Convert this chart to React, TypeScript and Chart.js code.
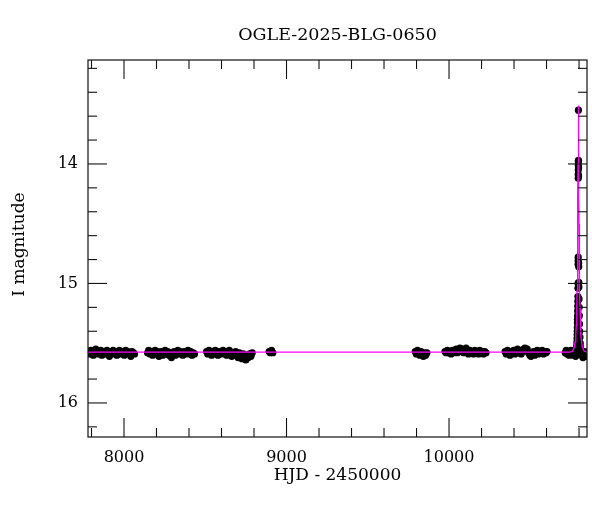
import { useEffect, useRef } from 'react';
import { Chart, registerables } from 'chart.js';

Chart.register(...registerables);

const TITLE = 'OGLE-2025-BLG-0650';
const X_LABEL = 'HJD - 2450000';
const Y_LABEL = 'I magnitude';
const X_MIN = 7778.5;
const X_MAX = 10849;
const Y_MIN = 13.13;
const Y_MAX = 16.285;
const X_TICK_LABELS = [8000, 9000, 10000];
const Y_TICK_LABELS = [14, 15, 16];
const X_MINOR_TICKS = [7800, 8000, 8200, 8400, 8600, 8800, 9000, 9200, 9400, 9600, 9800, 10000, 10200, 10400, 10600, 10800];
const Y_MINOR_TICKS = [13.2, 13.4, 13.6, 13.8, 14, 14.2, 14.4, 14.6, 14.8, 15, 15.2, 15.4, 15.6, 15.8, 16, 16.2];
const FONT = '"DejaVu Serif", "Liberation Serif", serif';

// OGLE I-band photometry [HJD-2450000, I mag], season by season
const season1 = [
  [7781, 15.57], [7788, 15.59], [7796, 15.56], [7803, 15.58], [7811, 15.6], [7819, 15.57], [7826, 15.55], [7834, 15.58],
  [7841, 15.59], [7849, 15.57], [7857, 15.56], [7864, 15.6], [7872, 15.58], [7880, 15.57], [7887, 15.59], [7895, 15.56],
  [7903, 15.58], [7910, 15.61], [7918, 15.57], [7926, 15.58], [7933, 15.56], [7941, 15.59], [7949, 15.57], [7956, 15.6],
  [7964, 15.58], [7972, 15.56], [7979, 15.59], [7987, 15.57], [7995, 15.58], [8002, 15.6], [8010, 15.56], [8018, 15.58],
  [8026, 15.57], [8034, 15.59], [8042, 15.61], [8050, 15.57], [8058, 15.58], [8065, 15.59],
];
const season2 = [
  [8145, 15.58], [8152, 15.56], [8160, 15.59], [8168, 15.57], [8176, 15.6], [8184, 15.58], [8191, 15.56], [8199, 15.59],
  [8207, 15.57], [8215, 15.61], [8222, 15.58], [8230, 15.57], [8238, 15.6], [8246, 15.58], [8253, 15.56], [8261, 15.59],
  [8269, 15.57], [8277, 15.6], [8285, 15.58], [8292, 15.62], [8300, 15.59], [8308, 15.57], [8316, 15.6], [8323, 15.58],
  [8331, 15.56], [8339, 15.59], [8347, 15.57], [8355, 15.58], [8362, 15.6], [8370, 15.57], [8378, 15.59], [8386, 15.58],
  [8394, 15.56], [8402, 15.59], [8410, 15.57], [8418, 15.6], [8426, 15.58], [8434, 15.59],
];
const season3 = [
  [8508, 15.57], [8515, 15.59], [8523, 15.56], [8531, 15.58], [8539, 15.6], [8546, 15.57], [8554, 15.59], [8562, 15.56],
  [8570, 15.58], [8578, 15.6], [8585, 15.57], [8593, 15.59], [8601, 15.58], [8609, 15.56], [8617, 15.59], [8624, 15.57],
  [8632, 15.6], [8640, 15.58], [8648, 15.56], [8656, 15.59], [8663, 15.61], [8671, 15.58], [8679, 15.6], [8687, 15.57],
  [8695, 15.59], [8702, 15.62], [8710, 15.58], [8718, 15.6], [8726, 15.63], [8734, 15.59], [8742, 15.61], [8750, 15.64],
  [8757, 15.6], [8765, 15.62], [8773, 15.59], [8781, 15.61], [8789, 15.58],
];
const season4 = [[8893, 15.57], [8900, 15.58], [8908, 15.56], [8916, 15.58]];
const season5 = [
  [9792, 15.57], [9799, 15.59], [9806, 15.56], [9813, 15.58], [9820, 15.6], [9828, 15.57], [9835, 15.59], [9842, 15.61],
  [9849, 15.58], [9856, 15.6], [9864, 15.58],
];
const season6 = [
  [9975, 15.57], [9982, 15.58], [9990, 15.56], [9998, 15.58], [10005, 15.57], [10013, 15.59], [10021, 15.56], [10028, 15.58],
  [10036, 15.57], [10044, 15.55], [10051, 15.58], [10059, 15.56], [10067, 15.54], [10074, 15.57], [10082, 15.55], [10090, 15.58],
  [10097, 15.56], [10105, 15.54], [10113, 15.57], [10120, 15.59], [10128, 15.56], [10136, 15.58], [10143, 15.57], [10151, 15.59],
  [10159, 15.56], [10166, 15.58], [10174, 15.57], [10182, 15.59], [10189, 15.56], [10197, 15.58], [10205, 15.57], [10212, 15.59],
  [10220, 15.57], [10228, 15.58],
];
const season7 = [
  [10345, 15.57], [10352, 15.59], [10360, 15.56], [10368, 15.58], [10375, 15.6], [10383, 15.57], [10391, 15.58], [10398, 15.56],
  [10406, 15.59], [10414, 15.57], [10421, 15.55], [10429, 15.58], [10437, 15.56], [10444, 15.59], [10452, 15.57], [10460, 15.55],
  [10467, 15.54], [10474, 15.56], [10481, 15.55], [10489, 15.58], [10497, 15.6], [10504, 15.61], [10512, 15.59], [10520, 15.57],
  [10527, 15.6], [10535, 15.58], [10543, 15.56], [10550, 15.59], [10558, 15.57], [10566, 15.58], [10573, 15.56], [10581, 15.59],
  [10589, 15.57], [10597, 15.58], [10603, 15.57],
];
const season8 = [
  [10715, 15.58], [10721, 15.56], [10727, 15.59], [10733, 15.57], [10739, 15.6], [10745, 15.58], [10750, 15.56], [10755, 15.59],
  [10760, 15.57], [10764, 15.6], [10768, 15.58], [10771, 15.56], [10774, 15.59], [10777, 15.57], [10779, 15.61], [10781, 15.58],
  [10783, 15.55], [10785, 15.57], [10786, 15.52], [10787, 15.49], [10788, 15.46], [10788.5, 15.43], [10789, 15.4], [10789.5, 15.37],
  [10790, 15.33], [10790.5, 15.3], [10791, 15.27], [10791.5, 15.23], [10792, 15.19], [10792.5, 15.15], [10793, 15.11], [10793.4, 15.04],
  [10793.8, 15.0], [10794.2, 14.84], [10794.5, 14.81], [10794.8, 14.78], [10795.1, 14.12], [10795.3, 14.09], [10795.5, 14.05], [10795.7, 14.01],
  [10795.9, 13.98], [10796.1, 13.55], [10796.4, 13.97], [10796.7, 14.03], [10797, 14.1], [10797.5, 14.83], [10798, 14.86], [10798.5, 14.99],
  [10799, 15.03], [10800, 15.13], [10801, 15.2], [10802, 15.27], [10803, 15.34], [10804, 15.4], [10805.5, 15.45], [10807, 15.5],
  [10809, 15.53], [10811, 15.58], [10814, 15.56], [10817, 15.6], [10820, 15.57], [10824, 15.62], [10828, 15.58], [10832, 15.6],
  [10836, 15.57], [10840, 15.59], [10844, 15.61], [10848, 15.58],
];

// microlensing model curve [HJD-2450000, I mag]
const modelCurve = [
  [7778.5, 15.575], [10746, 15.575], [10761, 15.565], [10771, 15.535], [10776, 15.49], [10780, 15.43], [10783, 15.35],
  [10786, 15.21], [10788, 15.06], [10790, 14.84], [10791, 14.69], [10792, 14.5], [10793, 14.27], [10794, 13.99], [10795, 13.69],
  [10796, 13.51], [10797, 13.69], [10798, 13.99], [10799, 14.27], [10800, 14.5], [10801, 14.69], [10802, 14.84], [10804, 15.06],
  [10806, 15.21], [10809, 15.35], [10812, 15.43], [10816, 15.49], [10821, 15.535], [10831, 15.565], [10846, 15.575], [10849, 15.575],
];

const framePlugin = {
  id: 'frameAndTitles',
  afterDatasetsDraw(chart: any) {
    const { ctx, chartArea: a, scales } = chart;
    const x = scales.x;
    const y = scales.y;
    ctx.save();
    ctx.strokeStyle = '#111';
    ctx.lineWidth = 1.2;
    ctx.strokeRect(a.left, a.top, a.right - a.left, a.bottom - a.top);
    const seg = (x1: number, y1: number, x2: number, y2: number) => {
      ctx.beginPath();
      ctx.moveTo(x1, y1);
      ctx.lineTo(x2, y2);
      ctx.stroke();
    };
    ctx.lineWidth = 1.1;
    X_MINOR_TICKS.forEach((v) => {
      const px = x.getPixelForValue(v);
      const len = X_TICK_LABELS.includes(v) ? 19 : 9;
      seg(px, a.bottom, px, a.bottom - len);
      seg(px, a.top, px, a.top + len);
    });
    Y_MINOR_TICKS.forEach((v) => {
      const py = y.getPixelForValue(v);
      const len = Y_TICK_LABELS.some((t) => Math.abs(t - v) < 1e-6) ? 19 : 9;
      seg(a.left, py, a.left + len, py);
      seg(a.right, py, a.right - len, py);
    });
    ctx.restore();
  },
  afterDraw(chart: any) {
    const { ctx, chartArea: a } = chart;
    ctx.save();
    ctx.fillStyle = '#000';
    ctx.textAlign = 'center';
    ctx.textBaseline = 'middle';
    ctx.font = `17.5px ${FONT}`;
    ctx.fillText(TITLE, (a.left + a.right) / 2, 35);
    ctx.font = `17px ${FONT}`;
    ctx.fillText(X_LABEL, (a.left + a.right) / 2, 476);
    ctx.translate(20, (a.top + a.bottom) / 2 - 4);
    ctx.rotate(-Math.PI / 2);
    ctx.fillText(Y_LABEL, 0, 0);
    ctx.restore();
  },
};

export default function App() {
  const ref = useRef<HTMLCanvasElement>(null);
  useEffect(() => {
    if (!ref.current) return;
    const obs = [...season1, ...season2, ...season3, ...season4, ...season5, ...season6, ...season7, ...season8].map(
      ([t, m]) => ({ x: t, y: m })
    );
    const model = modelCurve.map(([t, m]) => ({ x: t, y: m }));
    const chart = new Chart(ref.current, {
      type: 'scatter',
      data: {
        datasets: [
          {
            label: 'model',
            data: model,
            showLine: true,
            borderColor: '#ff00ff',
            borderWidth: 1.3,
            pointRadius: 0,
            tension: 0,
            order: 0,
          } as any,
          {
            label: 'OGLE',
            data: obs,
            pointRadius: 3.6,
            pointBackgroundColor: '#000',
            pointBorderWidth: 0,
            order: 1,
          },
        ],
      },
      options: {
        responsive: false,
        animation: false,
        layout: { padding: { top: 60, right: 13, left: 0, bottom: 0 } },
        plugins: { legend: { display: false }, tooltip: { enabled: false }, title: { display: false } },
        scales: {
          x: {
            type: 'linear',
            min: X_MIN,
            max: X_MAX,
            grid: { display: false, drawTicks: false },
            border: { display: false },
            ticks: {
              padding: 11,
              color: '#000',
              font: { family: FONT, size: 16 },
              autoSkip: false,
              maxRotation: 0,
              callback: (v: any) => String(v),
            },
            afterBuildTicks: (s: any) => {
              s.ticks = X_TICK_LABELS.map((v) => ({ value: v }));
            },
            afterFit: (s: any) => {
              s.height = 75;
            },
          },
          y: {
            type: 'linear',
            reverse: true,
            min: Y_MIN,
            max: Y_MAX,
            grid: { display: false, drawTicks: false },
            border: { display: false },
            ticks: {
              padding: 10,
              color: '#000',
              font: { family: FONT, size: 16 },
              autoSkip: false,
              callback: (v: any) => String(v),
            },
            afterBuildTicks: (s: any) => {
              s.ticks = Y_TICK_LABELS.map((v) => ({ value: v }));
            },
            afterFit: (s: any) => {
              s.width = 88;
            },
          },
        },
      },
      plugins: [framePlugin],
    });
    return () => chart.destroy();
  }, []);
  return (
    <div style={{ position: 'absolute', left: 0, top: 0, width: 600, height: 512 }}>
      <canvas ref={ref} width={600} height={512} style={{ display: 'block', width: 600, height: 512 }} />
    </div>
  );
}
